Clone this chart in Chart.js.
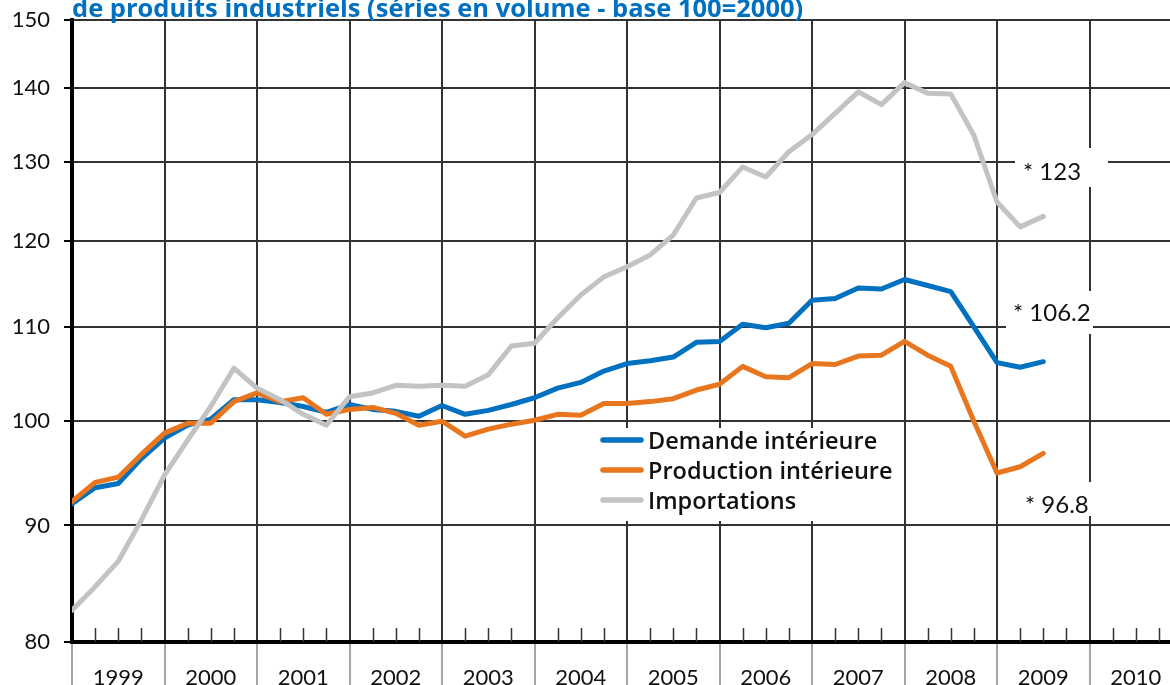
<!DOCTYPE html>
<html lang="fr">
<head>
<meta charset="utf-8">
<title>Demande, production et importations de produits industriels</title>
<script src="https://cdn.jsdelivr.net/npm/chart.js@4.4.1/dist/chart.umd.min.js"></script>
<style>
    html, body { margin: 0; padding: 0; background: #fff; overflow: hidden; }
    .wrap { position: relative; width: 1170px; height: 685px; }
</style>
</head>
<body>
<div class="wrap"><canvas id="chart"></canvas></div>
<script>
// années (axe horizontal), un trimestre par point à partir de 1999 T1
const years = ['1999', '2000', '2001', '2002', '2003', '2004', '2005', '2006', '2007', '2008', '2009', '2010'];
const yTicks = [80, 90, 100, 110, 120, 130, 140, 150];

// séries en volume, base 100 = 2000 (1999 T1 -> 2009 T3)
const demande = [
    92.0, 93.5, 93.9, 96.3, 98.3, 99.6, 100.2, 102.2, 102.2, 101.9, 101.5,
    100.9, 101.7, 101.2, 101.0, 100.5, 101.6, 100.7, 101.1, 101.7, 102.4, 103.4,
    104.0, 105.2, 106.0, 106.3, 106.7, 108.3, 108.4, 110.3, 109.9, 110.4, 113.0,
    113.2, 114.4, 114.3, 115.4, 114.7, 114.0, 110.0, 106.1, 105.6, 106.2
];
const production = [
    92.2, 94.0, 94.5, 96.7, 98.8, 99.8, 99.8, 102.0, 102.9, 102.0, 102.4,
    100.7, 101.2, 101.4, 100.8, 99.6, 100.0, 98.5, 99.2, 99.7, 100.1, 100.7,
    100.6, 101.8, 101.8, 102.0, 102.3, 103.2, 103.8, 105.7, 104.6, 104.5, 106.0,
    105.9, 106.8, 106.9, 108.4, 106.9, 105.7, 100.0, 94.9, 95.5, 96.8
];
const importations = [
    82.6, 84.6, 86.8, 90.5, 94.7, 98.1, 101.5, 105.5, 103.4, 102.2, 100.7,
    99.6, 102.5, 102.9, 103.7, 103.6, 103.7, 103.6, 104.8, 107.9, 108.2, 111.0,
    113.6, 115.7, 116.9, 118.3, 120.7, 125.3, 126.0, 129.3, 128.0, 131.3, 133.6,
    136.5, 139.5, 137.7, 140.8, 139.3, 139.2, 133.5, 124.8, 121.7, 123.0
];
const lastLabels = ['* 106.2', '* 96.8', '* 123'];

const titleText = 'de produits industriels (séries en volume - base 100=2000)';
const FONT = 'Lato, "Noto Sans", sans-serif';
const FONT_WIDE = '"Open Sans", "Noto Sans", sans-serif';
const BLUE = '#0070c0';
const ORANGE = '#e8761e';
const GREY = '#c3c3c3';

const toPoints = arr => arr.map((v, i) => ({ x: i, y: v }));

// petits dessins autour du graphique : graduations trimestrielles, légende, étiquettes, titre
const decor = {
    id: 'decor',
    beforeDatasetsDraw(chart) {
        const { ctx, scales: { x, y } } = chart;
        ctx.save();
        ctx.strokeStyle = '#333';
        ctx.lineWidth = 1.5;
        for (let q = 1; q < 48; q++) {
            if (q % 4 === 0) continue;
            const px = Math.round(x.getPixelForValue(q)) + 0.5;
            ctx.beginPath();
            ctx.moveTo(px, y.bottom);
            ctx.lineTo(px, y.bottom - 14);
            ctx.stroke();
        }
        // fonds blancs (légende et valeurs finales)
        ctx.fillStyle = '#fff';
        ctx.fillRect(590, 428, 310, 93);
        ctx.fillRect(1006, 291, 87, 43);
        ctx.fillRect(1018, 482, 78, 34);
        ctx.fillRect(1015, 148, 93, 39);
        ctx.restore();
    },
    afterDatasetsDraw(chart) {
        const ctx = chart.ctx;
        ctx.save();
        // légende
        const sets = chart.data.datasets;
        ctx.font = '600 23.5px ' + FONT_WIDE;
        ctx.textBaseline = 'alphabetic';
        sets.forEach((ds, i) => {
            const cy = 440 + i * 30;
            ctx.strokeStyle = ds.borderColor;
            ctx.lineWidth = 5.5;
            ctx.lineCap = 'round';
            ctx.beginPath();
            ctx.moveTo(603, cy);
            ctx.lineTo(641, cy);
            ctx.stroke();
            ctx.fillStyle = '#111';
            ctx.fillText(ds.label, 648, cy + 9);
        });
        // valeurs du dernier trimestre
        ctx.font = '24px ' + FONT;
        ctx.fillStyle = '#111';
        ctx.fillText(lastLabels[0], 1013, 321);
        ctx.fillText(lastLabels[1], 1025, 513);
        ctx.fillText(lastLabels[2], 1023, 180);
        ctx.restore();
    },
    afterDraw(chart) {
        const ctx = chart.ctx;
        ctx.save();
        ctx.font = '700 25.5px ' + FONT_WIDE;
        ctx.fillStyle = BLUE;
        ctx.textBaseline = 'alphabetic';
        ctx.fillText(titleText, 72, 17);
        ctx.restore();
    }
};

const ctx = document.getElementById('chart').getContext('2d');
new Chart(ctx, {
    type: 'line',
    data: {
        datasets: [
            { label: 'Demande intérieure', data: toPoints(demande), borderColor: BLUE, order: 3 },
            { label: 'Production intérieure', data: toPoints(production), borderColor: ORANGE, order: 2 },
            { label: 'Importations', data: toPoints(importations), borderColor: GREY, order: 1 }
        ]
    },
    options: {
        animation: false,
        responsive: true,
        maintainAspectRatio: false,
        layout: { padding: { top: 20, right: 0, bottom: 0, left: 0 } },
        elements: {
            line: { borderWidth: 5, tension: 0, fill: false, borderJoinStyle: 'round', borderCapStyle: 'round' },
            point: { radius: 0, hoverRadius: 0 }
        },
        plugins: {
            legend: { display: false },
            title: { display: false },
            tooltip: { enabled: false }
        },
        scales: {
            x: {
                type: 'linear',
                min: 0,
                max: 47.48,
                afterBuildTicks: scale => {
                    scale.ticks = [];
                    for (let q = 0; q <= 47; q++) scale.ticks.push({ value: q });
                },
                afterFit: scale => {
                    scale.height = 43;
                    scale.paddingLeft = 0;
                    scale.paddingRight = 0;
                },
                border: { display: true, color: '#000', width: 4 },
                grid: {
                    color: c => (c.tick && c.tick.value % 4 === 0) ? '#333' : 'rgba(0,0,0,0)',
                    tickColor: c => (c.tick && c.tick.value % 4 === 0) ? '#888' : 'rgba(0,0,0,0)',
                    lineWidth: 2,
                    tickWidth: 1.5,
                    tickLength: 43
                },
                ticks: {
                    autoSkip: false,
                    maxRotation: 0,
                    padding: -18,
                    color: '#111',
                    font: { family: FONT, size: 22, lineHeight: 1 },
                    callback: v => (v % 4 === 2 ? years[(v - 2) / 4] : '')
                }
            },
            y: {
                type: 'logarithmic',
                min: 80,
                max: 150,
                afterBuildTicks: scale => {
                    scale.ticks = yTicks.map(v => ({ value: v }));
                },
                afterFit: scale => {
                    scale.width = 72;
                    scale.paddingTop = 0;
                    scale.paddingBottom = 0;
                },
                border: { display: true, color: '#000', width: 4 },
                grid: {
                    color: '#333',
                    lineWidth: 2,
                    tickColor: '#000',
                    tickLength: 8
                },
                ticks: {
                    padding: 14,
                    color: '#111',
                    font: { family: FONT, size: 22 },
                    callback: v => String(v)
                }
            }
        }
    },
    plugins: [decor]
});
</script>
</body>
</html>
